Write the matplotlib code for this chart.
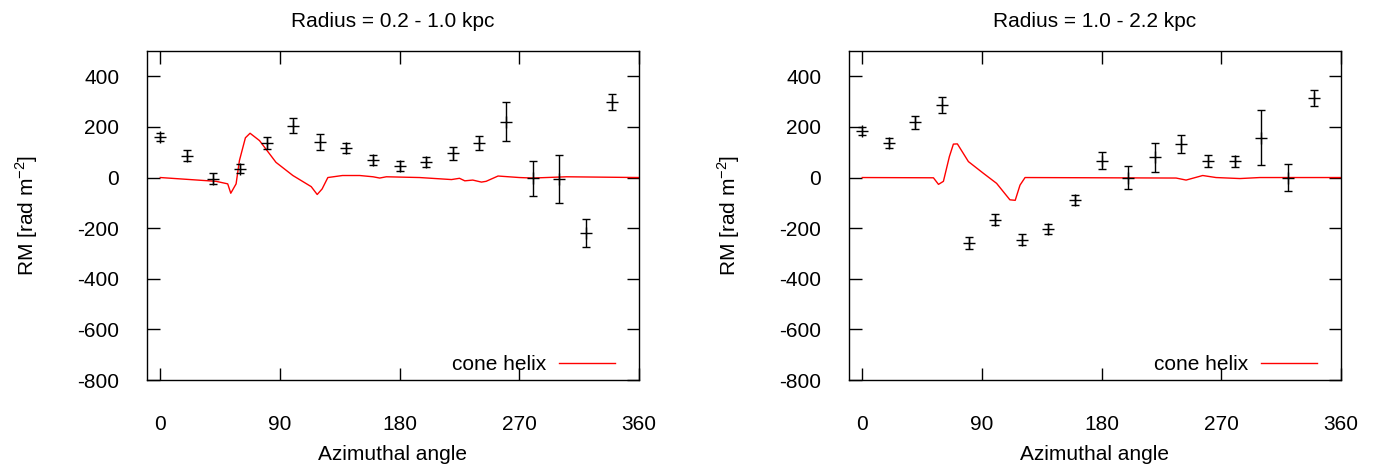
import matplotlib
matplotlib.use("Agg")
import matplotlib.pyplot as plt

plt.rcParams['font.family'] = ['Liberation Sans', 'DejaVu Sans']
plt.rcParams['axes.unicode_minus'] = False
plt.rcParams['mathtext.fontset'] = 'custom'
plt.rcParams['mathtext.rm'] = 'Liberation Sans'

# observed RM, 20 degree bins
angle = [0, 20, 40, 60, 80, 100, 120, 140, 160, 180, 200, 220, 240, 260, 280, 300, 320, 340]

rm_inner = [159, 87, -5, 34, 136, 205, 140, 116, 71, 47, 61, 96, 137, 221, -3, -5, -219, 298]
err_inner = [16, 20, 22, 18, 25, 29, 32, 21, 20, 20, 20, 25, 27, 77, 70, 95, 56, 33]

rm_outer = [183, 137, 219, 287, -258, -166, -246, -203, -88, 67, 0, 80, 133, 65, 65, 157, 0, 315]
err_outer = [16, 19, 26, 31, 23, 20, 21, 21, 20, 34, 44, 57, 36, 25, 22, 108, 54, 32]

# cone helix model curves
model_ang_inner = [0, 42, 50.7, 53, 57, 59.5, 64, 67.5, 74.6, 87, 99.7, 113.5, 118, 121.7, 126,
                   137, 150, 160, 165, 170, 195, 219, 225, 229, 235, 241.5, 245, 254, 270,
                   280, 305.5, 360]
model_rm_inner = [0, -15, -25, -62, -25, 67, 157, 175, 146, 60, 8, -36, -67, -45, 0,
                  8, 8, 3, -2, 3, 0, -8, -3, -13, -10, -18, -15, 6, 0,
                  -2, 3, 0]

model_ang_outer = [0, 53.5, 57.3, 61, 65.5, 68.5, 71.5, 79.8, 91, 101, 111, 115, 118.6, 122.4,
                   236, 243.5, 256, 266, 284, 299, 360]
model_rm_outer = [0, -1, -27, -15, 83, 132, 133, 63, 17, -23, -88, -90, -30, 0,
                  -2, -10, 8, 0, -4, 0, 0]

titles = ["Radius = 0.2 - 1.0 kpc", "Radius = 1.0 - 2.2 kpc"]
panels = [
    (rm_inner, err_inner, model_ang_inner, model_rm_inner),
    (rm_outer, err_outer, model_ang_outer, model_rm_outer),
]

fig = plt.figure(figsize=(13.78, 4.65), dpi=100)
lefts = [147 / 1378, 849 / 1378]
fs = 15

for left, title, (rm, err, mx, my) in zip(lefts, titles, panels):
    ax = fig.add_axes([left, 85 / 465, 492 / 1378, 329 / 465])
    ax.plot(mx, my, color='red', lw=1, label='cone helix', zorder=2)
    ax.errorbar(angle, rm, yerr=err, fmt='+', color='black', ms=9, mew=1,
                elinewidth=1, capsize=3, capthick=1, zorder=3)
    ax.set_xlim(-10, 360)
    ax.set_ylim(-800, 500)
    ax.set_xticks([0, 90, 180, 270, 360])
    ax.set_yticks([-800, -600, -400, -200, 0, 200, 400])
    ax.tick_params(direction='in', length=9, width=1, top=True, right=True,
                   labelsize=fs)
    ax.tick_params(axis='x', pad=25)
    ax.tick_params(axis='y', pad=20)
    ax.set_title(title, fontsize=fs, pad=17)
    ax.set_xlabel('Azimuthal angle', fontsize=fs, labelpad=8)
    ax.set_ylabel(r'RM [rad m$^{\mathregular{-2}}$]', fontsize=fs, labelpad=27)
    ax.legend(loc='center right', frameon=False, fontsize=fs, handlelength=2.7,
              handletextpad=0.6, markerfirst=False, borderaxespad=0, borderpad=0,
              bbox_to_anchor=(0.952, 0.046))
    for s in ax.spines.values():
        s.set_linewidth(1)

fig.savefig('out.png', dpi=100)
